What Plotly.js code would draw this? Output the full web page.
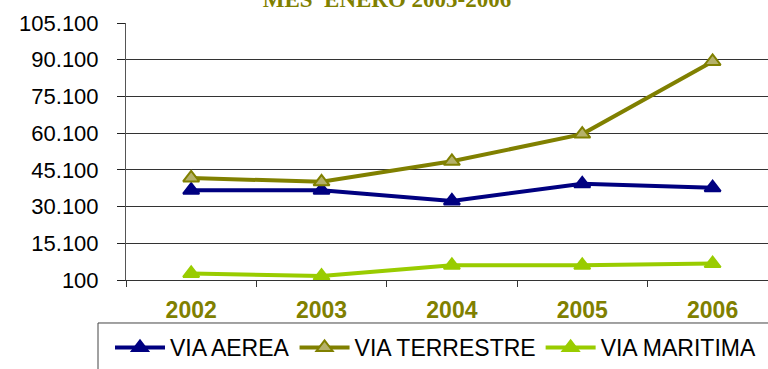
<!DOCTYPE html>
<html>
<head>
<meta charset="utf-8">
<script src="https://cdn.plot.ly/plotly-3.0.1.min.js"></script>
<style>html,body{margin:0;padding:0;background:#fff;}#chart{width:768px;height:369px;}</style>
</head>
<body>
<div id="chart"></div>
<script>
const years = ["2002", "2003", "2004", "2005", "2006"];
const viaAerea = [36800, 36800, 32400, 39400, 37800];
const viaTerrestre = [41800, 40200, 48600, 59700, 89400];
const viaMaritima = [2800, 1700, 6100, 6100, 6800];
const yTickVals = [100, 15100, 30100, 45100, 60100, 75100, 90100, 105100];
const yTickText = ["100", "15.100", "30.100", "45.100", "60.100", "75.100", "90.100", "105.100"];
const titleText = "MES  ENERO 2005-2006";

function tr(name, y, color, fill) {
  return {
    x: years, y: y, name: name, type: 'scatter', mode: 'lines+markers',
    line: {color: color, width: 4},
    marker: {symbol: 'triangle-up', size: 14, color: fill, line: {color: color, width: 2}},
    cliponaxis: false
  };
}
const data = [
  tr('VIA AEREA', viaAerea, '#000080', '#000080'),
  tr('VIA TERRESTRE', viaTerrestre, '#808000', '#b5b16a'),
  tr('VIA MARITIMA', viaMaritima, '#99cc00', '#99cc00')
];
const layout = {
  width: 768, height: 369,
  margin: {l: 126, r: 0, t: 23, b: 83},
  paper_bgcolor: '#fff', plot_bgcolor: '#fff',
  font: {family: 'Arial, "Liberation Sans", sans-serif', color: '#000'},
  title: {text: '<b>' + titleText + '</b>', font: {family: '"Liberation Serif", "Times New Roman", serif', size: 23, color: '#808000'},
          x: 387/768, xanchor: 'center', xref: 'container', y: 1 - 7/369, yref: 'container', yanchor: 'bottom'},
  xaxis: {type: 'category', range: [-0.5, 4.425], tickson: 'boundaries', ticks: 'outside', ticklen: 6, tickcolor: '#333',
          showline: true, linecolor: '#333', linewidth: 1, showgrid: false, zeroline: false, ticklabelstandoff: 9,
          tickfont: {size: 23, color: '#808000', family: 'Arial, "Liberation Sans", sans-serif', weight: 'bold'}},
  yaxis: {range: [100, 105100], tickvals: yTickVals, ticktext: yTickText, ticks: 'outside', ticklen: 8, tickcolor: '#222',
          showline: true, linecolor: '#555', linewidth: 1, showgrid: true, gridcolor: '#333', gridwidth: 1, zeroline: false,
          ticklabelstandoff: 14,
          tickfont: {size: 22, color: '#000'}},
  showlegend: true,
  legend: {orientation: 'h', x: (110-126)/642, xanchor: 'left', y: (286-333)/263, yanchor: 'top',
           font: {size: 23, color: '#000'}, bgcolor: 'rgba(0,0,0,0)', borderwidth: 0, itemwidth: 50, traceorder: 'normal'},
  shapes: [{type: 'rect', xref: 'paper', yref: 'paper', x0: (98-126)/642, x1: 1.1, y0: (286-330)/263, y1: -0.5,
            line: {color: '#444', width: 1}, fillcolor: 'rgba(0,0,0,0)'}]
};
Plotly.newPlot('chart', data, layout, {displayModeBar: false, staticPlot: true});
</script>
</body>
</html>
